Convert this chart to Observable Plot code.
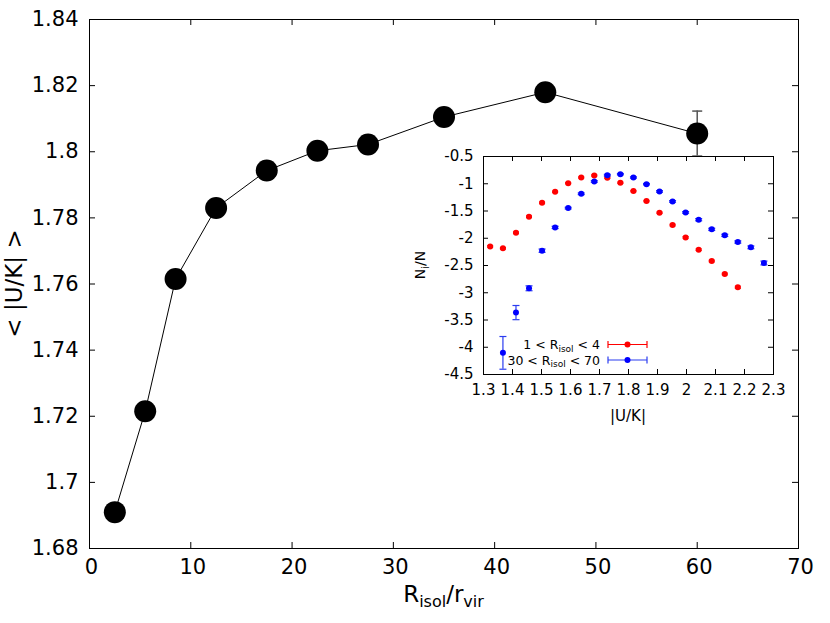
<!DOCTYPE html>
<html><head><meta charset="utf-8">
<script src="https://cdn.jsdelivr.net/npm/d3@7"></script>
<script src="https://cdn.jsdelivr.net/npm/@observablehq/plot@0.6"></script>
<style>
body{margin:0;background:#fff;}
#wrap{position:relative;width:830px;height:623px;font-family:"DejaVu Sans",sans-serif;}
#main{position:absolute;left:0;top:0;}
#inset{position:absolute;left:395px;top:140px;}
</style>
</head><body>
<div id="wrap"><div id="main"></div><div id="inset"></div></div>
<script>
// ---- main chart data ----
const rIsol   = [2.5, 5.5, 8.5, 12.5, 17.5, 22.5, 27.5, 35, 45, 60];
const meanUK  = [1.691, 1.7215, 1.7615, 1.783, 1.7943, 1.8003, 1.8022, 1.8105, 1.818, 1.8055];
const meanErr = [0, 0, 0, 0, 0, 0, 0, 0, 0, 0.0068];
const mainXTicks = [0, 10, 20, 30, 40, 50, 60, 70];
const mainYTicks = [1.68, 1.7, 1.72, 1.74, 1.76, 1.78, 1.8, 1.82, 1.84];

// ---- inset data ----
const redX = [1.323, 1.367, 1.412, 1.457, 1.502, 1.547, 1.592, 1.637, 1.682, 1.727, 1.772, 1.817, 1.862, 1.907, 1.952, 1.997, 2.042, 2.087, 2.132, 2.177];
const redY = [-2.15, -2.185, -1.9, -1.605, -1.35, -1.147, -0.99, -0.885, -0.848, -0.89, -0.982, -1.135, -1.318, -1.532, -1.758, -1.984, -2.21, -2.418, -2.656, -2.9];
const redErr = [0.015, 0.015, 0.015, 0.015, 0.015, 0.012, 0.012, 0.012, 0.012, 0.012, 0.012, 0.012, 0.012, 0.012, 0.015, 0.015, 0.015, 0.015, 0.015, 0.02];
const blueX = [1.367, 1.412, 1.457, 1.502, 1.547, 1.592, 1.637, 1.682, 1.727, 1.772, 1.817, 1.862, 1.907, 1.952, 1.997, 2.042, 2.087, 2.132, 2.177, 2.222, 2.267];
const blueY = [-4.103, -3.364, -2.918, -2.228, -1.801, -1.447, -1.184, -0.958, -0.842, -0.824, -0.885, -1.007, -1.141, -1.324, -1.526, -1.66, -1.837, -1.947, -2.069, -2.167, -2.454];
const blueErr = [0.30, 0.13, 0.045, 0.03, 0.02, 0.015, 0.015, 0.015, 0.015, 0.012, 0.012, 0.012, 0.015, 0.015, 0.015, 0.02, 0.02, 0.02, 0.02, 0.025, 0.035];
const insetXTicks = [1.3, 1.4, 1.5, 1.6, 1.7, 1.8, 1.9, 2, 2.1, 2.2, 2.3];
const insetYTicks = [-4.5, -4, -3.5, -3, -2.5, -2, -1.5, -1, -0.5];
const legendLabels = [["1 < R", "isol", " < 4"], ["30 < R", "isol", " < 70"]];
const legendColors = ["#ff0000", "#0000ff"];

const mainData = rIsol.map((x, i) => ({x, y: meanUK[i], e: meanErr[i]}));
const mainErr = mainData.filter(d => d.e > 0);
const redData = redX.map((x, i) => ({x, y: redY[i], e: redErr[i]}));
const blueData = blueX.map((x, i) => ({x, y: blueY[i], e: blueErr[i]}));

const FONT = "DejaVu Sans";
const capSymbol = {draw(ctx, size) { const r = Math.sqrt(size / Math.PI); ctx.moveTo(-r, 0); ctx.lineTo(r, 0); }};
const fmt = d => String(d);

// ---- main plot ----
const W = 830, H = 623, mL = 89, mR = 32, mT = 19, mB = 75;
const innerW = W - mL - mR, innerH = H - mT - mB;
const tk = 6;
const main = Plot.plot({
  width: W, height: H, marginLeft: mL, marginRight: mR, marginTop: mT, marginBottom: mB,
  style: {fontFamily: FONT, background: "white", color: "black"},
  x: {domain: [0, 70]},
  y: {domain: [1.68, 1.84]},
  marks: [
    Plot.frame({stroke: "black", strokeWidth: 1}),
    Plot.tickX(mainXTicks, {x: d => d, insetTop: innerH - tk, stroke: "black"}),
    Plot.tickX(mainXTicks, {x: d => d, insetBottom: innerH - tk, stroke: "black"}),
    Plot.tickY(mainYTicks, {y: d => d, insetRight: innerW - tk, stroke: "black"}),
    Plot.tickY(mainYTicks, {y: d => d, insetLeft: innerW - tk, stroke: "black"}),
    Plot.axisX({ticks: mainXTicks, tickSize: 0, tickPadding: 11, fontSize: 21, fontFamily: FONT, label: null, tickFormat: fmt, dx: 2}),
    Plot.axisY({ticks: mainYTicks, tickSize: 0, tickPadding: 11, fontSize: 21, fontFamily: FONT, label: null, tickFormat: fmt}),
    Plot.line(mainData, {x: "x", y: "y", stroke: "black", strokeWidth: 1}),
    Plot.ruleX(mainErr, {x: "x", y1: d => d.y - d.e, y2: d => d.y + d.e, stroke: "#555", strokeWidth: 1.5}),
    Plot.dot(mainErr, {x: "x", y: d => d.y + d.e, symbol: capSymbol, r: 5, stroke: "#555", fill: "none", strokeWidth: 1.5}),
    Plot.dot(mainErr, {x: "x", y: d => d.y - d.e, symbol: capSymbol, r: 5, stroke: "#555", fill: "none", strokeWidth: 1.5}),
    Plot.dot(mainData, {x: "x", y: "y", r: 11, fill: "black", stroke: "none"})
  ]
});
document.getElementById("main").appendChild(main);

{
  const svg = d3.select(main);
  const sx = main.scale("x"), sy = main.scale("y");
  const cx = (sx.apply(0) + sx.apply(70)) / 2;
  const t = svg.append("text").attr("x", cx).attr("y", 602).attr("text-anchor", "middle")
    .attr("font-family", FONT).attr("font-size", 23).attr("fill", "black");
  t.append("tspan").text("R");
  t.append("tspan").attr("font-size", 16).attr("dy", 5).text("isol");
  t.append("tspan").attr("dy", -5).text("/r");
  t.append("tspan").attr("font-size", 16).attr("dy", 5).text("vir");
  const cy = (sy.apply(1.68) + sy.apply(1.84)) / 2;
  svg.append("text").attr("transform", `translate(22,${cy}) rotate(-90)`).attr("text-anchor", "middle")
    .attr("font-family", FONT).attr("font-size", 23).attr("fill", "black").text("< |U/K| >");
}

// ---- inset plot ----
const iW = 405, iH = 300, iL = 88, iR = 27, iT = 16, iB = 66;
const iInW = iW - iL - iR, iInH = iH - iT - iB;
const itk = 5;
const blueBar = "#2b3cf0";
const inset = Plot.plot({
  width: iW, height: iH, marginLeft: iL, marginRight: iR, marginTop: iT, marginBottom: iB,
  style: {fontFamily: FONT, background: "transparent", color: "black"},
  x: {domain: [1.3, 2.3]},
  y: {domain: [-4.5, -0.5]},
  marks: [
    Plot.frame({fill: "white", stroke: "black", strokeWidth: 1}),
    Plot.tickX(insetXTicks, {x: d => d, insetTop: iInH - itk, stroke: "black"}),
    Plot.tickX(insetXTicks, {x: d => d, insetBottom: iInH - itk, stroke: "black"}),
    Plot.tickY(insetYTicks, {y: d => d, insetRight: iInW - itk, stroke: "black"}),
    Plot.tickY(insetYTicks, {y: d => d, insetLeft: iInW - itk, stroke: "black"}),
    Plot.axisX({ticks: insetXTicks, tickSize: 0, tickPadding: 10, fontSize: 15, fontFamily: FONT, label: null, tickFormat: fmt}),
    Plot.axisY({ticks: insetYTicks, tickSize: 0, tickPadding: 10, fontSize: 15, fontFamily: FONT, label: null, tickFormat: fmt}),
    Plot.ruleX(redData, {x: "x", y1: d => d.y - d.e, y2: d => d.y + d.e, stroke: "#ff0000", strokeWidth: 1}),
    Plot.dot(redData, {x: "x", y: d => d.y + d.e, symbol: capSymbol, r: 3, stroke: "#ff0000", fill: "none", strokeWidth: 1}),
    Plot.dot(redData, {x: "x", y: d => d.y - d.e, symbol: capSymbol, r: 3, stroke: "#ff0000", fill: "none", strokeWidth: 1}),
    Plot.dot(redData, {x: "x", y: "y", r: 3, fill: "#ff0000", stroke: "none"}),
    Plot.ruleX(blueData, {x: "x", y1: d => d.y - d.e, y2: d => d.y + d.e, stroke: blueBar, strokeWidth: 1.2}),
    Plot.dot(blueData, {x: "x", y: d => d.y + d.e, symbol: capSymbol, r: 3.5, stroke: blueBar, fill: "none", strokeWidth: 1.2}),
    Plot.dot(blueData, {x: "x", y: d => d.y - d.e, symbol: capSymbol, r: 3.5, stroke: blueBar, fill: "none", strokeWidth: 1.2}),
    Plot.dot(blueData, {x: "x", y: "y", r: 3, fill: "#0000ff", stroke: "none"})
  ]
});
document.getElementById("inset").appendChild(inset);

{
  const svg = d3.select(inset);
  const sx = inset.scale("x"), sy = inset.scale("y");
  const cx = (sx.apply(1.3) + sx.apply(2.3)) / 2;
  svg.append("text").attr("x", cx).attr("y", 281).attr("text-anchor", "middle")
    .attr("font-family", FONT).attr("font-size", 15).attr("fill", "black").text("|U/K|");
  const cy = (sy.apply(-4.5) + sy.apply(-0.5)) / 2;
  const yl = svg.append("text").attr("transform", `translate(${iL - 58},${cy}) rotate(-90)`).attr("text-anchor", "middle")
    .attr("font-family", FONT).attr("font-size", 14).attr("fill", "black");
  yl.append("tspan").text("N");
  yl.append("tspan").attr("font-size", 10).attr("dy", 4).text("i");
  yl.append("tspan").attr("dy", -4).text("/N");

  // legend (positions relative to the inset frame's left edge)
  const lgTextX = iL + 117, lgX1 = iL + 125, lgX2 = iL + 164, lgY0 = 204.5, lgDy = 15.5;
  legendLabels.forEach((lab, i) => {
    const y = lgY0 + i * lgDy;
    const t = svg.append("text").attr("x", lgTextX).attr("y", y + 4.5).attr("text-anchor", "end")
      .attr("font-family", FONT).attr("font-size", 12.5).attr("fill", "black");
    t.append("tspan").text(lab[0]);
    t.append("tspan").attr("font-size", 9).attr("dy", 2.5).text(lab[1]);
    t.append("tspan").attr("dy", -2.5).text(lab[2]);
    const c = i === 0 ? legendColors[0] : blueBar;
    const g = svg.append("g").attr("stroke", c).attr("stroke-width", 1.2);
    g.append("line").attr("x1", lgX1).attr("x2", lgX2).attr("y1", y).attr("y2", y);
    g.append("line").attr("x1", lgX1).attr("x2", lgX1).attr("y1", y - 3.5).attr("y2", y + 3.5);
    g.append("line").attr("x1", lgX2).attr("x2", lgX2).attr("y1", y - 3.5).attr("y2", y + 3.5);
    svg.append("circle").attr("cx", (lgX1 + lgX2) / 2).attr("cy", y).attr("r", 3).attr("fill", legendColors[i]);
  });
}
</script>
</body></html>
